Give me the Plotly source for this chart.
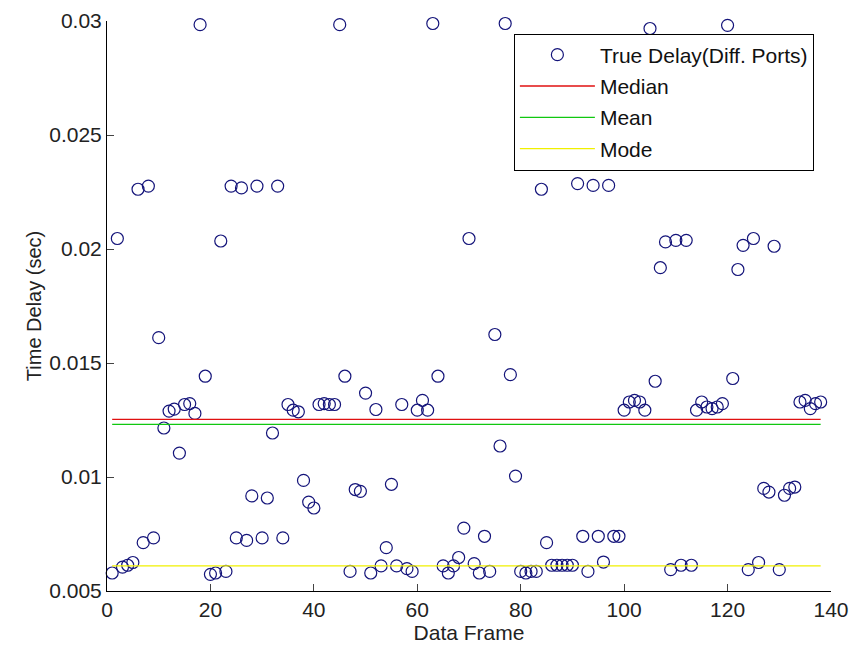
import plotly.graph_objects as go

frames = list(range(1, 139))
delay = [
    0.00579, 0.02046, 0.00605, 0.00613, 0.00625, 0.02262, 0.00712, 0.02276, 0.00733, 0.01611,
    0.01215, 0.01289, 0.01298, 0.01105, 0.01318, 0.01322, 0.01279, 0.02984, 0.01442, 0.00573,
    0.00579, 0.02035, 0.00586, 0.02276, 0.00733, 0.02268, 0.00722, 0.00917, 0.02276, 0.00733,
    0.00908, 0.01193, 0.02276, 0.00733, 0.01318, 0.01293, 0.01286, 0.00985, 0.00890, 0.00864,
    0.01318, 0.01322, 0.01318, 0.01318, 0.02984, 0.01442, 0.00586, 0.00945, 0.00937, 0.01368,
    0.00579, 0.01296, 0.00610, 0.00690, 0.00968, 0.00610, 0.01318, 0.00598, 0.00586, 0.01293,
    0.01336, 0.01293, 0.02989, 0.01442, 0.00610, 0.00579, 0.00610, 0.00647, 0.00776, 0.02046,
    0.00620, 0.00579, 0.00740, 0.00586, 0.01625, 0.01136, 0.02989, 0.01449, 0.01004, 0.00586,
    0.00579, 0.00586, 0.00586, 0.02262, 0.00712, 0.00613, 0.00613, 0.00613, 0.00613, 0.00613,
    0.02287, 0.00740, 0.00586, 0.02279, 0.00740, 0.00627, 0.02279, 0.00740, 0.00740, 0.01293,
    0.01329, 0.01336, 0.01329, 0.01293, 0.02967, 0.01420, 0.01918, 0.02031, 0.00594, 0.02038,
    0.00613, 0.02038, 0.00613, 0.01293, 0.01329, 0.01307, 0.01300, 0.01307, 0.01322, 0.02981,
    0.01432, 0.01910, 0.02016, 0.00594, 0.02046, 0.00625, 0.00950, 0.00934, 0.02012, 0.00594,
    0.00920, 0.00950, 0.00956, 0.01329, 0.01336, 0.01300, 0.01322, 0.01329,
]
median_val = 0.01253
mean_val = 0.01231
mode_val = 0.0061

x_ticks = [0, 20, 40, 60, 80, 100, 120, 140]
y_ticks = [0.005, 0.01, 0.015, 0.02, 0.025, 0.03]
y_tick_labels = ["0.005", "0.01", "0.015", "0.02", "0.025", "0.03"]

font = "Liberation Sans, Arial, sans-serif"

fig = go.Figure()
fig.add_trace(go.Scatter(
    x=frames, y=delay, mode="markers", name="True Delay(Diff. Ports)",
    marker=dict(symbol="circle-open", size=12, color="#14147a", line=dict(width=1.2, color="#14147a")),
    cliponaxis=False, legendgroup="a",
))
line_x = [frames[0], frames[-1]]
fig.add_trace(go.Scatter(x=line_x, y=[median_val] * 2, mode="lines", name="Median",
                         line=dict(color="#e01010", width=1.3), legendgroup="b"))
fig.add_trace(go.Scatter(x=line_x, y=[mean_val] * 2, mode="lines", name="Mean",
                         line=dict(color="#10c810", width=1.3), legendgroup="c"))
fig.add_trace(go.Scatter(x=line_x, y=[mode_val] * 2, mode="lines", name="Mode",
                         line=dict(color="#f0f000", width=1.3), legendgroup="d"))

fig.update_layout(
    width=851, height=653,
    margin=dict(l=107, r=20, t=21, b=62),
    paper_bgcolor="white", plot_bgcolor="white",
    font=dict(family=font, size=21, color="#222"),
    showlegend=True,
    legend=dict(
        x=0.562, y=0.978, xanchor="left", yanchor="top",
        bgcolor="white", bordercolor="black", borderwidth=1,
        font=dict(family=font, size=21, color="#111"),
        tracegroupgap=1, traceorder="grouped",
        itemwidth=75,
    ),
    xaxis=dict(
        range=[0, 140], tickvals=x_ticks, ticks="inside", ticklen=7,
        showline=True, linecolor="black", linewidth=1, showgrid=False, zeroline=False,
        title=dict(text="Data Frame", font=dict(size=21), standoff=4),
        tickfont=dict(size=21), automargin=False,
    ),
    yaxis=dict(
        range=[0.005, 0.03], tickvals=y_ticks, ticktext=y_tick_labels,
        ticks="inside", ticklen=7,
        showline=True, linecolor="black", linewidth=1, showgrid=False, zeroline=False,
        title=dict(text="Time Delay (sec)", font=dict(size=20), standoff=2),
        tickfont=dict(size=21), automargin=False,
    ),
)

fig.write_html("out.html")
